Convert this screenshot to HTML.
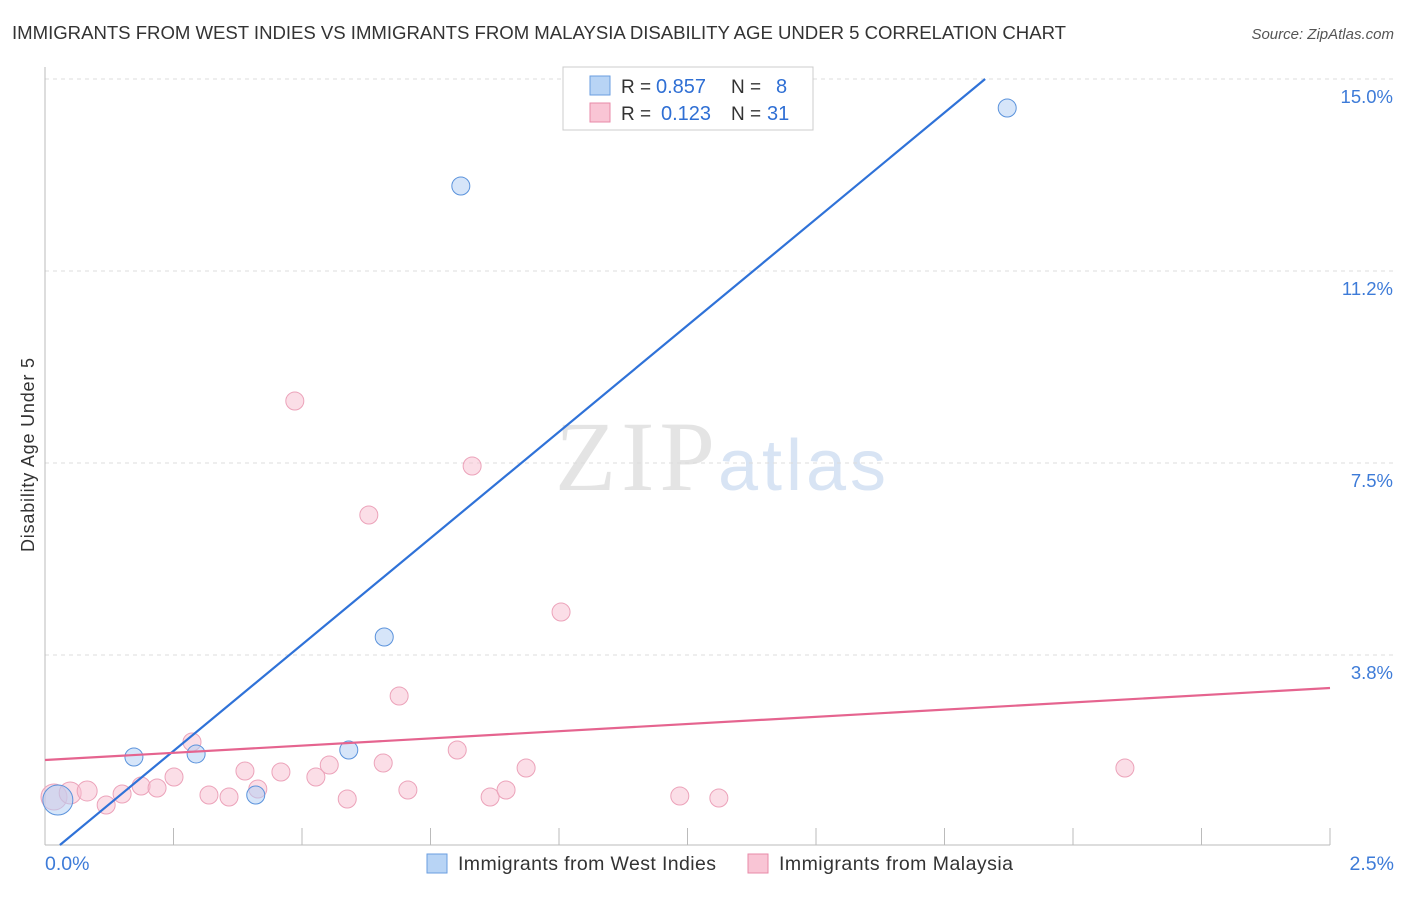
<!DOCTYPE html>
<html><head><meta charset="utf-8"><style>
body{margin:0;background:#fff;font-family:"Liberation Sans",sans-serif;}
</style></head><body>
<svg id="c" width="1406" height="892" xmlns="http://www.w3.org/2000/svg">
<text x="12" y="39" font-size="18.6" fill="#333" textLength="1054">IMMIGRANTS FROM WEST INDIES VS IMMIGRANTS FROM MALAYSIA DISABILITY AGE UNDER 5 CORRELATION CHART</text>
<text x="1394" y="39" font-size="15" fill="#555" font-style="italic" text-anchor="end">Source: ZipAtlas.com</text>
<text x="34" y="455" font-size="18" fill="#333" text-anchor="middle" textLength="194" transform="rotate(-90 34 455)">Disability Age Under 5</text>
<text x="715" y="490" font-size="100" fill="#e4e4e4" text-anchor="end" textLength="160" font-family="Liberation Serif,serif">ZIP</text>
<text x="718" y="490" font-size="72" fill="#d8e4f4" textLength="168">atlas</text>
<g id="grid"></g><g id="marks"></g>
<g>
<rect x="563" y="67" width="250" height="63" fill="#fff" stroke="#ccc"/>
<rect x="590" y="76" width="20" height="19" fill="#b8d4f5" stroke="#6a9ee0"/>
<rect x="590" y="103" width="20" height="19" fill="#f9c5d5" stroke="#e88aa8"/>
<text x="621" y="93" font-size="19" fill="#333">R =</text>
<text x="656" y="93" font-size="20" fill="#2f6fd4">0.857</text>
<text x="731" y="93" font-size="19" fill="#333">N =</text>
<text x="776" y="93" font-size="20" fill="#2f6fd4">8</text>
<text x="621" y="120" font-size="19" fill="#333">R =</text>
<text x="661" y="120" font-size="20" fill="#2f6fd4">0.123</text>
<text x="731" y="120" font-size="19" fill="#333">N =</text>
<text x="767" y="120" font-size="20" fill="#2f6fd4">31</text>
</g>
<g>
<rect x="427" y="854" width="20" height="19" fill="#b8d4f5" stroke="#6a9ee0"/>
<text x="458" y="870" font-size="19.5" fill="#333" textLength="258">Immigrants from West Indies</text>
<rect x="748" y="854" width="20" height="19" fill="#f9c5d5" stroke="#e88aa8"/>
<text x="779" y="870" font-size="19.5" fill="#333" textLength="234">Immigrants from Malaysia</text>
</g>
</svg>
<script>
const xTicks=[0,2.5];
const xTickLabels=["0.0%","2.5%"];
const yTicks=[3.75,7.5,11.25,15.0];
const yTickLabels=["3.8%","7.5%","11.2%","15.0%"];
const pinkX=[0.0175,0.049,0.082,0.119,0.150,0.187,0.218,0.251,0.286,0.319,0.358,0.414,0.389,0.459,0.527,0.553,0.588,0.658,0.706,0.802,0.866,0.897,0.936,0.486,0.831,0.630,1.004,0.689,1.235,1.311,2.101];
const pinkY=[0.977,1.055,1.094,0.820,1.035,1.191,1.152,1.367,2.051,1.016,0.977,1.133,1.484,1.465,1.367,1.602,0.938,1.641,1.113,1.895,0.977,1.113,1.543,8.711,7.441,6.484,4.590,2.949,0.996,0.957,1.543];
const pinkR=[13,11,10,9,9,9,9,9,9,9,9,9,9,9,9,9,9,9,9,9,9,9,9,9,9,9,9,9,9,9,9];
const blueX=[0.025,0.173,0.294,0.410,0.591,0.660,0.809,1.872];
const blueY=[0.918,1.758,1.816,1.016,1.895,4.102,12.910,14.434];
const blueR=[15,9,9,9,9,9,9,9];
const blueTrend=[0.029,0.039,1.829,15.0];
const pinkTrend=[0,1.699,2.5,3.105];
const X=v=>45+v/2.5*1285, Y=v=>847-v/3.75*192;
const NS="http://www.w3.org/2000/svg";
function mk(p,t,a){const e=document.createElementNS(NS,t);for(const k in a)e.setAttribute(k,a[k]);p.appendChild(e);return e;}
const g=document.getElementById('grid'), m=document.getElementById('marks');
yTicks.forEach((v,i)=>{
 const l=mk(g,'line',{x1:45,x2:1394,y1:Y(v),y2:Y(v),stroke:'#ddd','stroke-dasharray':'4,4'});
 
 
 const t=mk(g,'text',{x:1393,y:Y(v)+24,'font-size':18.5,fill:'#3d7bd8','text-anchor':'end'});
 t.textContent=yTickLabels[i];
 
 
});
const ax=mk(g,'line',{x1:45,x2:45,y1:67,y2:845,stroke:'#bbb'});


const bx=mk(g,'line',{x1:45,x2:1330,y1:845,y2:845,stroke:'#bbb'});


for(let i=1;i<=10;i++){const px=45+i*128.5;const tk=mk(g,'line',{x1:px,x2:px,y1:828,y2:845,stroke:'#bbb'});
 
 }
xTicks.forEach((v,i)=>{const t=mk(g,'text',{x:i?1394:45,y:870,'font-size':19.5,fill:'#3d7bd8','text-anchor':i?'end':'start'});
 t.textContent=xTickLabels[i];
 
 });
pinkX.forEach((v,i)=>{const c=mk(m,'circle',{cx:X(v),cy:Y(pinkY[i]),r:pinkR[i],fill:'rgba(248,190,208,0.5)',stroke:'#eca3ba'});
 
 });
blueX.forEach((v,i)=>{const c=mk(m,'circle',{cx:X(v),cy:Y(blueY[i]),r:blueR[i],fill:'rgba(180,208,244,0.55)',stroke:'#5b93dc'});
 
 });
const bl=mk(m,'line',{x1:X(blueTrend[0]),y1:Y(blueTrend[1]),x2:X(blueTrend[2]),y2:Y(blueTrend[3]),stroke:'#2f72d8','stroke-width':2.2});


const pl=mk(m,'line',{x1:X(pinkTrend[0]),y1:Y(pinkTrend[1]),x2:X(pinkTrend[2]),y2:Y(pinkTrend[3]),stroke:'#e5648f','stroke-width':2.2});


</script>
</body></html>
